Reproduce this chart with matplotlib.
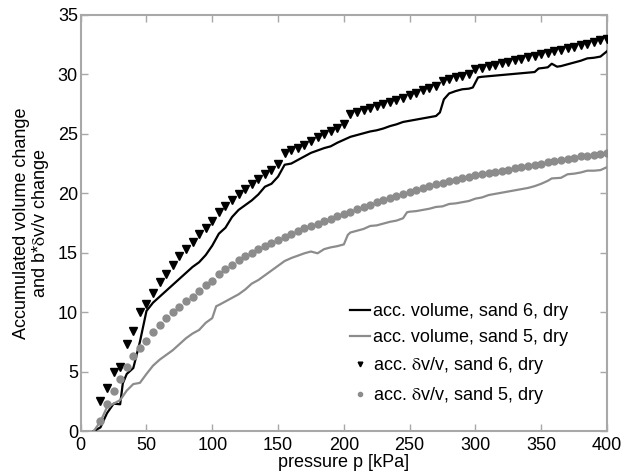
import matplotlib
matplotlib.use("Agg")
import matplotlib.pyplot as plt

plt.rcParams['font.family'] = ['Liberation Sans', 'DejaVu Sans']
plt.rcParams['mathtext.fontset'] = 'stix'

# pressure steps of the acoustic measurements (kPa)
p_marks = list(range(15, 405, 5))

# accumulated b*dv/v, sand 6 dry
dvv_sand6 = [2.55, 3.6, 5.0, 5.4, 7.3, 8.45, 10.0, 10.7, 11.65, 12.55,
             13.25, 14.0, 14.7, 15.3, 15.9, 16.55, 17.1, 17.7, 18.4, 18.9,
             19.4, 19.9, 20.4, 20.8, 21.2, 21.6, 22.0, 22.5,
             23.4, 23.6, 23.8, 24.1, 24.4, 24.7, 25.0, 25.2, 25.5, 25.8,
             26.7, 26.85, 27.0, 27.2, 27.35, 27.5, 27.7, 27.85, 28.05, 28.25,
             28.45, 28.65, 28.85, 29.05,
             29.45, 29.6, 29.75, 29.9, 30.05,
             30.45, 30.55, 30.7, 30.8, 30.95, 31.05, 31.2, 31.3, 31.45, 31.55,
             31.7, 31.8, 31.95, 32.05, 32.2, 32.3, 32.45, 32.55, 32.75, 32.9, 32.95]

# accumulated b*dv/v, sand 5 dry
dvv_sand5 = [0.8, 2.3, 3.4, 4.35, 5.4, 6.3, 6.95, 7.6, 8.35, 8.9,
             9.5, 10.0, 10.45, 10.9, 11.3, 11.8, 12.25, 12.65, 13.2, 13.6,
             14.0, 14.35, 14.7, 15.0, 15.35, 15.6, 15.85, 16.1, 16.35, 16.6,
             16.85, 17.05, 17.25, 17.45, 17.65, 17.85, 18.05, 18.25, 18.45, 18.65,
             18.85, 19.05, 19.3, 19.45, 19.6, 19.75, 19.9, 20.1, 20.3, 20.45,
             20.6, 20.75, 20.9, 21.0, 21.15, 21.3, 21.4, 21.5, 21.6, 21.7,
             21.8, 21.9, 22.0, 22.1, 22.2, 22.3, 22.4, 22.5, 22.6, 22.7,
             22.8, 22.9, 23.0, 23.1, 23.15, 23.2, 23.3, 23.35]

# accumulated volume change, sand 6 dry
p_vol6 = [10, 15, 20, 25, 30, 32, 35, 40, 45, 50, 55, 60, 65, 70, 75, 80, 85, 90,
          95, 100, 105, 110, 115, 120, 125, 130, 135, 140, 145, 150, 155, 160,
          165, 170, 175, 180, 185, 190, 195, 200, 205, 210, 215, 220, 225, 230,
          235, 240, 245, 250, 255, 260, 265, 270, 273, 276, 280, 285, 290, 295,
          298, 302, 305, 310, 315, 320, 325, 330, 335, 340, 345, 348, 352, 355,
          358, 362, 365, 370, 375, 380, 385, 390, 395, 400]
vol_sand6 = [0.0, 0.3, 1.5, 2.3, 2.25, 4.0, 4.8, 5.3, 7.5, 10.1, 10.8, 11.3, 11.8,
             12.3, 12.8, 13.3, 13.8, 14.2, 14.8, 15.6, 16.6, 17.1, 18.0, 18.6,
             19.0, 19.4, 19.9, 20.55, 20.8, 21.4, 22.4, 22.5, 22.8, 23.1, 23.4,
             23.6, 23.8, 23.95, 24.25, 24.5, 24.75, 24.9, 25.05, 25.2, 25.3, 25.45,
             25.65, 25.8, 26.0, 26.1, 26.2, 26.3, 26.4, 26.5, 26.8, 27.9, 28.4,
             28.6, 28.75, 28.8, 28.9, 29.75, 29.8, 29.85, 29.9, 29.95, 30.0, 30.05,
             30.1, 30.15, 30.2, 30.5, 30.55, 30.6, 30.9, 30.65, 30.7, 30.85, 31.0,
             31.15, 31.35, 31.4, 31.5, 31.95]

# accumulated volume change, sand 5 dry
p_vol5 = [10, 15, 20, 25, 30, 35, 40, 45, 50, 55, 60, 65, 70, 75, 80, 85, 90, 95,
          100, 103, 105, 110, 115, 120, 125, 130, 135, 140, 145, 150, 155, 160,
          165, 170, 175, 180, 185, 190, 195, 200, 203, 205, 210, 215, 220, 225,
          230, 235, 240, 245, 248, 250, 255, 260, 265, 270, 275, 280, 285, 290,
          295, 300, 305, 310, 315, 320, 325, 330, 335, 340, 345, 350, 355, 358,
          365, 370, 375, 380, 385, 390, 395, 400]
vol_sand5 = [0.0, 0.8, 2.0, 2.3, 2.6, 3.4, 3.95, 4.05, 4.8, 5.5, 6.0, 6.4, 6.8,
             7.3, 7.8, 8.2, 8.5, 9.1, 9.5, 10.5, 10.6, 10.9, 11.2, 11.5, 11.9,
             12.4, 12.7, 13.1, 13.5, 13.9, 14.3, 14.55, 14.75, 14.95, 15.1, 14.95,
             15.3, 15.45, 15.55, 15.7, 16.5, 16.7, 16.85, 17.0, 17.25, 17.3, 17.45,
             17.6, 17.7, 17.9, 18.4, 18.45, 18.5, 18.6, 18.7, 18.85, 18.9, 19.1,
             19.15, 19.25, 19.35, 19.55, 19.65, 19.85, 19.95, 20.05, 20.15, 20.25,
             20.35, 20.45, 20.6, 20.8, 21.05, 21.25, 21.3, 21.6, 21.65, 21.75,
             21.9, 21.9, 21.95, 22.2]

labels = ["acc. volume, sand 6, dry",
          "acc. volume, sand 5, dry",
          r"acc. $\mathrm{\delta}$v/v, sand 6, dry",
          r"acc. $\mathrm{\delta}$v/v, sand 5, dry"]

fig = plt.figure(figsize=(6.24, 4.74), dpi=100)
ax = fig.add_axes([0.1293, 0.0907, 0.8435, 0.8777])

frame_grey = "#a8a8a8"
fs = 13
ax.plot(p_vol6, vol_sand6, color="black", lw=1.6, label=labels[0], zorder=3)
ax.plot(p_vol5, vol_sand5, color="#8c8c8c", lw=1.6, label=labels[1], zorder=3)
ax.plot(p_marks, dvv_sand6, linestyle="none", marker="v", color="black",
        markersize=5.6, label=labels[2], zorder=4)
ax.plot(p_marks, dvv_sand5, linestyle="none", marker="o", color="#8c8c8c",
        markeredgecolor="#8c8c8c", markersize=5.0, label=labels[3], zorder=4)

ax.set_xlim(0, 400)
ax.set_ylim(0, 35)
ax.set_xticks(range(0, 401, 50))
ax.set_yticks(range(0, 36, 5))
ax.tick_params(direction="in", length=5, width=1, color=frame_grey,
               top=True, right=True, labelsize=fs)
ax.tick_params(axis="x", pad=4.5)
ax.tick_params(axis="y", pad=2)
for s in ax.spines.values():
    s.set_color(frame_grey)
    s.set_linewidth(1.5)

ax.set_xlabel("pressure p [kPa]", fontsize=fs, labelpad=0)
ax.set_ylabel("Accumulated volume change\nand b*$\\mathrm{\\delta}$v/v change",
              fontsize=fs, labelpad=5, linespacing=1.0)

leg = ax.legend(loc="center left", bbox_to_anchor=(0.512, 0.183), frameon=False,
                fontsize=fs, handlelength=1.1, handletextpad=0.15,
                labelspacing=0.5, borderpad=0, borderaxespad=0,
                numpoints=1, markerscale=0.6)

fig.savefig("out.png", dpi=100)
